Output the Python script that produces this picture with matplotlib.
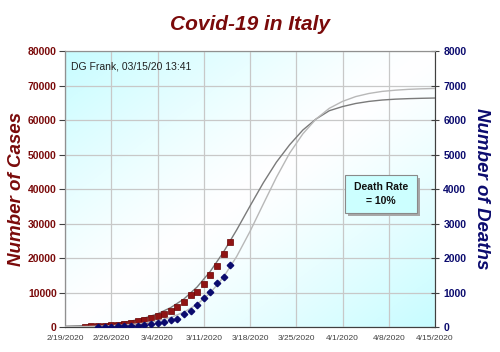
import numpy as np
import matplotlib
matplotlib.use("Agg")
import matplotlib.pyplot as plt
from matplotlib.patches import Rectangle

plt.rcParams['font.family'] = ['Liberation Sans', 'DejaVu Sans']

# ---- data ----
case_dates = np.arange(np.datetime64('2020-02-22'), np.datetime64('2020-03-16'))
cases = [79, 157, 229, 322, 453, 650, 888, 1128, 1694, 2036, 2502, 3089, 3858,
         4636, 5883, 7375, 9172, 10149, 12462, 15113, 17660, 21157, 24747]
death_dates = np.arange(np.datetime64('2020-02-24'), np.datetime64('2020-03-16'))
deaths = [7, 10, 12, 17, 21, 29, 34, 52, 79, 107, 148, 197, 233, 366, 463, 631,
          827, 1016, 1266, 1441, 1809]

fit_dates = np.arange(np.datetime64('2020-02-19'), np.datetime64('2020-04-16'), 2)
cases_fit = [219, 330, 502, 757, 1137, 1715, 2563, 3816, 5627, 8127, 11610, 16150,
             21770, 28200, 35060, 41760, 47800, 52830, 57100, 60300, 62700, 63900,
             64800, 65400, 65800, 66050, 66200, 66300, 66380]
deaths_fit = [7, 11, 18, 28, 45, 71, 113, 177, 277, 430, 658, 990, 1450, 2050, 2770,
              3560, 4340, 5040, 5600, 6030, 6340, 6540, 6680, 6770, 6830, 6865, 6890,
              6905, 6915]

xtick_dates = np.arange(np.datetime64('2020-02-19'), np.datetime64('2020-04-16'), 7)
xtick_labels = ['2/19/2020', '2/26/2020', '3/4/2020', '3/11/2020', '3/18/2020',
                '3/25/2020', '4/1/2020', '4/8/2020', '4/15/2020']
cases_ticks = [0, 10000, 20000, 30000, 40000, 50000, 60000, 70000, 80000]
deaths_ticks = [0, 1000, 2000, 3000, 4000, 5000, 6000, 7000, 8000]

RED = '#7a0a0a'
NAVY = '#0b0b6e'

fig = plt.figure(figsize=(5.0, 3.52), dpi=100)
ax = fig.add_axes([0.13, 0.071, 0.74, 0.784])
ax2 = ax.twinx()

# gradient background
n = 200
u = np.linspace(0, 1, n)[None, :]
v = np.linspace(1, 0, n)[:, None]
a = np.abs(u - v) ** 1.2
cyan = np.array([0.78, 0.99, 1.0])
img = (1 - a[..., None]) * np.array([1.0, 1.0, 1.0]) + a[..., None] * cyan
ax.imshow(img, extent=[0, 1, 0, 1], transform=ax.transAxes, aspect='auto', zorder=0)

ax.set_xlim(xtick_dates[0], xtick_dates[-1])
ax.set_ylim(0, 80000)
ax2.set_ylim(0, 8000)

ax.grid(True, color='#c8c8c8', lw=0.9, zorder=1)
ax.set_axisbelow(False)

ax.plot(fit_dates, cases_fit, color='#7a7a7a', lw=1.0, zorder=3)
ax.plot(case_dates, cases, ls='none', marker='s', ms=3.9, mfc='#8f1414', mec='#6a0000',
        mew=0.5, zorder=4)
ax2.plot(fit_dates, deaths_fit, color='#b8b8b8', lw=1.0, zorder=3)
ax2.plot(death_dates, deaths, ls='none', marker='D', ms=3.3, mfc=NAVY, mec=NAVY, zorder=4)

ax.set_xticks(xtick_dates)
ax.set_xticklabels(xtick_labels, fontsize=6, color='#404040')
ax.tick_params(axis='x', length=0, pad=6)
ax.set_yticks(cases_ticks)
ax.set_yticklabels([str(t) for t in cases_ticks], fontsize=7.5, fontweight='bold', color=RED)
ax.tick_params(axis='y', direction='out', length=4, color='#404040', pad=2)
ax2.set_yticks(deaths_ticks)
ax2.set_yticklabels([str(t) for t in deaths_ticks], fontsize=7.5, fontweight='bold', color=NAVY)
ax2.tick_params(axis='y', direction='inout', length=6, color='#404040', pad=3)

for s in ax.spines.values():
    s.set_color('#909090')
for s in ax2.spines.values():
    s.set_color('#909090')
ax.spines['left'].set_color('#404040')
ax2.spines['right'].set_color('#404040')
ax.spines['bottom'].set_color('#404040')
ax2.spines['bottom'].set_color('#404040')

ax.set_ylabel('Number of Cases', fontsize=13.5, fontweight='bold', fontstyle='italic',
              color=RED, labelpad=2)
ax2.set_ylabel('Number of Deaths', fontsize=13.5, fontweight='bold', fontstyle='italic',
               color=NAVY, rotation=270, labelpad=17)

fig.text(0.5, 0.929, 'Covid-19 in Italy', ha='center', va='center', fontsize=15,
         fontweight='bold', fontstyle='italic', color=RED)

ax.text(0.016, 0.945, 'DG Frank, 03/15/20 13:41', transform=ax.transAxes, fontsize=7.5,
        color='#202020', va='center', ha='left', zorder=6)

# Death rate box with shadow
bx0, by0 = (345 - 65) / 370, (327 - 213) / 276
bw, bh = (417 - 345) / 370, (213 - 175) / 276
ax.add_patch(Rectangle((bx0 + 0.008, by0 - 0.012), bw, bh, transform=ax.transAxes,
                       facecolor='#a8a8a8', edgecolor='none', zorder=6))
ax.add_patch(Rectangle((bx0, by0), bw, bh, transform=ax.transAxes,
                       facecolor='#ccffff', edgecolor='#8a8a8a', lw=0.8, zorder=7))
ax.text(bx0 + bw / 2, by0 + bh / 2, 'Death Rate\n= 10%', transform=ax.transAxes,
        ha='center', va='center', fontsize=7.5, fontweight='bold', color='#101010',
        linespacing=1.5, zorder=8)

fig.savefig('out.png', dpi=100)
